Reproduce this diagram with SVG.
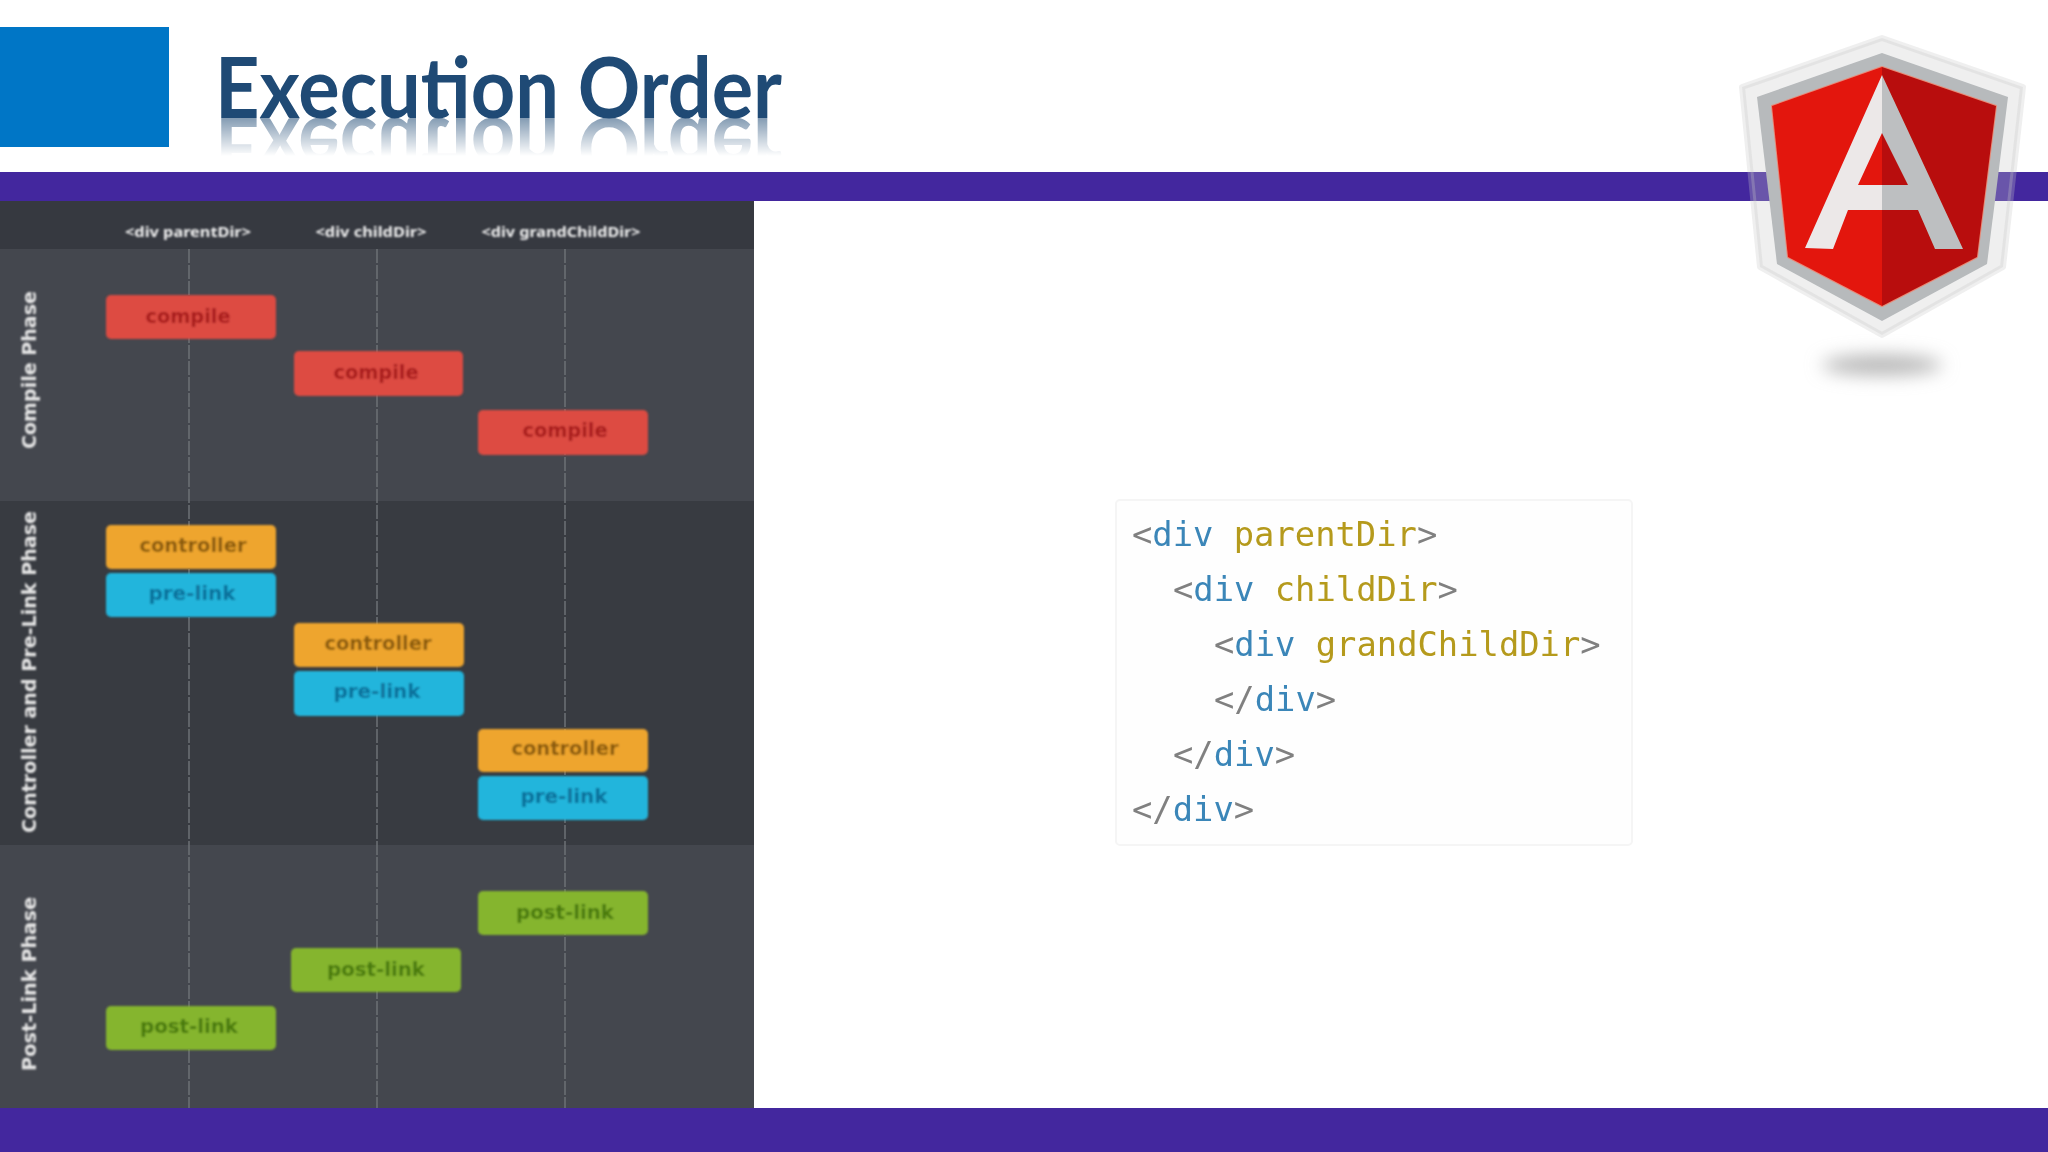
<svg xmlns="http://www.w3.org/2000/svg" xmlns:xlink="http://www.w3.org/1999/xlink" width="2048" height="1152" viewBox="0 0 2048 1152">
<style>
.n{font-family:"DejaVu Sans",sans-serif;font-weight:700;font-size:20px;text-anchor:middle}
.hd{font-family:"Noto Sans",sans-serif;font-weight:700;font-size:15px;fill:#f0f0f0;text-anchor:middle}
.ph{font-family:"DejaVu Sans",sans-serif;font-weight:700;font-size:19px;fill:#e6e6e6;text-anchor:middle}
.c{fill:#dd4b43}.ct{fill:#a81c1c}
.o{fill:#eea52f}.ot{fill:#8a5a0a}
.b{fill:#22b5dc}.bt{fill:#0f6f9a}
.g{fill:#85b52e}.gt{fill:#4a7a10}
.code{font-family:"DejaVu Sans Mono",monospace;font-size:33.8px}
.p{fill:#808080}.k{fill:#3a86b8}.a{fill:#b59a1c}
</style>
<defs>
<filter id="soft" x="-5%" y="-5%" width="110%" height="110%"><feGaussianBlur stdDeviation="0.9"/></filter>
<filter id="soft2" x="-5%" y="-5%" width="110%" height="110%"><feGaussianBlur stdDeviation="0.6"/></filter>
<filter id="shadow" x="-40%" y="-150%" width="180%" height="400%"><feGaussianBlur stdDeviation="9"/></filter>
<linearGradient id="fade" x1="0" y1="118" x2="0" y2="156" gradientUnits="userSpaceOnUse"><stop offset="0" stop-color="#fff" stop-opacity=".55"/><stop offset="1" stop-color="#fff" stop-opacity="0"/></linearGradient>
<mask id="rm" maskUnits="userSpaceOnUse" x="200" y="110" width="600" height="50"><rect x="200" y="118" width="600" height="40" fill="url(#fade)"/></mask>
</defs>
<rect width="2048" height="1152" fill="#fff"/>
<rect id="blue" x="0" y="27" width="169" height="120" fill="#0076c6"/>
<g id="title">
<text id="tt" x="215" y="118" font-family="Lato, sans-serif" font-weight="700" font-size="84" fill="#1f4a75" textLength="567" lengthAdjust="spacingAndGlyphs">Execution Order</text>
<g mask="url(#rm)"><use href="#tt" xlink:href="#tt" transform="translate(0,236) scale(1,-1)"/></g>
</g>
<rect id="bar-top" x="0" y="172" width="2048" height="29" fill="#43279e"/>
<rect id="bar-bottom" x="0" y="1108" width="2048" height="44" fill="#43279e"/>
<g id="panel">
<rect x="0" y="201" width="754" height="48" fill="#363940"/>
<rect x="0" y="249" width="754" height="252" fill="#44474e"/>
<rect x="0" y="501" width="754" height="344" fill="#383b41"/>
<rect x="0" y="845" width="754" height="263" fill="#44474e"/>
</g>
<g id="connectors" stroke="#6d7076" stroke-width="1.5" stroke-dasharray="14 2" fill="none" filter="url(#soft2)">
<line x1="189" y1="249" x2="189" y2="1108"/>
<line x1="377" y1="249" x2="377" y2="1108"/>
<line x1="565" y1="249" x2="565" y2="1108"/>
</g>
<g filter="url(#soft)">
<g id="headers">
<text class="hd" x="188" y="237" textLength="126" lengthAdjust="spacingAndGlyphs">&lt;div parentDir&gt;</text>
<text class="hd" x="371" y="237" textLength="111" lengthAdjust="spacingAndGlyphs">&lt;div childDir&gt;</text>
<text class="hd" x="561" y="237" textLength="159" lengthAdjust="spacingAndGlyphs">&lt;div grandChildDir&gt;</text>
</g>
<g id="phases">
<text class="ph" transform="translate(36,370) rotate(-90)" textLength="158" lengthAdjust="spacingAndGlyphs">Compile Phase</text>
<text class="ph" transform="translate(36,672) rotate(-90)" textLength="322" lengthAdjust="spacingAndGlyphs">Controller and Pre-Link Phase</text>
<text class="ph" transform="translate(36,984) rotate(-90)" textLength="174" lengthAdjust="spacingAndGlyphs">Post-Link Phase</text>
</g>
<g id="compile-parent"><rect class="c" x="106" y="295" width="170" height="44" rx="5"/><text class="n ct" x="188" y="323" textLength="85" lengthAdjust="spacingAndGlyphs">compile</text></g>
<g id="compile-child"><rect class="c" x="294" y="351" width="169" height="45" rx="5"/><text class="n ct" x="376" y="379" textLength="85" lengthAdjust="spacingAndGlyphs">compile</text></g>
<g id="compile-grand"><rect class="c" x="478" y="410" width="170" height="45" rx="5"/><text class="n ct" x="565" y="437" textLength="85" lengthAdjust="spacingAndGlyphs">compile</text></g>
<g id="controller-parent"><rect class="o" x="106" y="525" width="170" height="44" rx="5"/><text class="n ot" x="193" y="552" textLength="107" lengthAdjust="spacingAndGlyphs">controller</text></g>
<g id="prelink-parent"><rect class="b" x="106" y="573" width="170" height="44" rx="5"/><text class="n bt" x="192" y="600" textLength="87" lengthAdjust="spacingAndGlyphs">pre-link</text></g>
<g id="controller-child"><rect class="o" x="294" y="623" width="170" height="44" rx="5"/><text class="n ot" x="378" y="650" textLength="107" lengthAdjust="spacingAndGlyphs">controller</text></g>
<g id="prelink-child"><rect class="b" x="294" y="671" width="170" height="45" rx="5"/><text class="n bt" x="377" y="698" textLength="87" lengthAdjust="spacingAndGlyphs">pre-link</text></g>
<g id="controller-grand"><rect class="o" x="478" y="729" width="170" height="43" rx="5"/><text class="n ot" x="565" y="755" textLength="107" lengthAdjust="spacingAndGlyphs">controller</text></g>
<g id="prelink-grand"><rect class="b" x="478" y="776" width="170" height="44" rx="5"/><text class="n bt" x="564" y="803" textLength="87" lengthAdjust="spacingAndGlyphs">pre-link</text></g>
<g id="postlink-grand"><rect class="g" x="478" y="891" width="170" height="44" rx="5"/><text class="n gt" x="565" y="919" textLength="98" lengthAdjust="spacingAndGlyphs">post-link</text></g>
<g id="postlink-child"><rect class="g" x="291" y="948" width="170" height="44" rx="5"/><text class="n gt" x="376" y="976" textLength="98" lengthAdjust="spacingAndGlyphs">post-link</text></g>
<g id="postlink-parent"><rect class="g" x="106" y="1006" width="170" height="44" rx="5"/><text class="n gt" x="189" y="1033" textLength="98" lengthAdjust="spacingAndGlyphs">post-link</text></g>
</g>
<g id="code">
<rect x="1116" y="500" width="516" height="345" rx="4" fill="#fefefe" stroke="#f5f5f5" stroke-width="2"/>
<g filter="url(#soft2)">
<text class="code" x="1132" y="546"><tspan class="p">&lt;</tspan><tspan class="k">div</tspan> <tspan class="a">parentDir</tspan><tspan class="p">&gt;</tspan></text>
<text class="code" x="1173" y="601"><tspan class="p">&lt;</tspan><tspan class="k">div</tspan> <tspan class="a">childDir</tspan><tspan class="p">&gt;</tspan></text>
<text class="code" x="1214" y="656"><tspan class="p">&lt;</tspan><tspan class="k">div</tspan> <tspan class="a">grandChildDir</tspan><tspan class="p">&gt;</tspan></text>
<text class="code" x="1214" y="711"><tspan class="p">&lt;/</tspan><tspan class="k">div</tspan><tspan class="p">&gt;</tspan></text>
<text class="code" x="1173" y="766"><tspan class="p">&lt;/</tspan><tspan class="k">div</tspan><tspan class="p">&gt;</tspan></text>
<text class="code" x="1132" y="821"><tspan class="p">&lt;/</tspan><tspan class="k">div</tspan><tspan class="p">&gt;</tspan></text>
</g>
</g>
<g id="logo">
<ellipse cx="1882" cy="365" rx="60" ry="10" fill="#b5b5b5" filter="url(#shadow)"/>
<polygon points="1882,38 2023,87 2003,267 1882,335 1760,267 1742,87" fill="#c8c8c8" fill-opacity=".29" stroke="#c8c8c8" stroke-opacity=".29" stroke-width="6" stroke-linejoin="round"/>
<g filter="url(#soft2)">
<polygon points="1882,53 2008,97 1987,264 1882,321 1777,264 1757,97" fill="#b7babc"/>
<polygon points="1882,67 1996,106 1977,257 1882,306 1788,257 1772,106" fill="#e88a78" stroke="#e88a78" stroke-width="2" stroke-linejoin="round"/>
<polygon points="1882,67 1772,106 1788,257 1882,306" fill="#e3140f"/>
<polygon points="1882,67 1996,106 1977,257 1882,306" fill="#b80f08"/>
<path d="M1882,75 L1805,248 L1833,249 L1848,210 L1882,210 L1882,185 L1858,185 L1882,133 Z" fill="#ece8e8"/>
<path d="M1882,75 L1963,249 L1935,249 L1918,210 L1882,210 L1882,185 L1908,185 L1882,133 Z" fill="#bdbfc1"/>
</g>
</g>
</svg>
